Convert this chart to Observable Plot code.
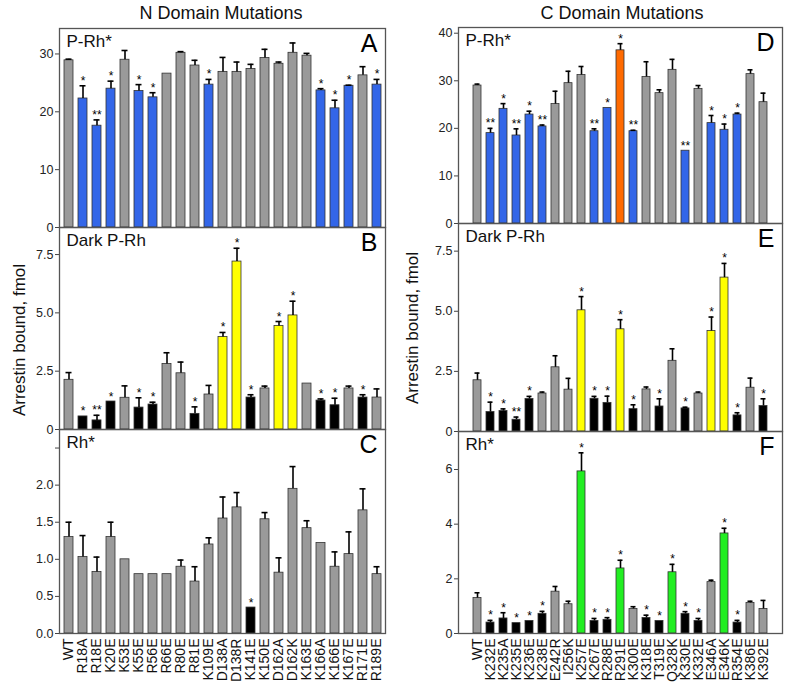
<!DOCTYPE html>
<html><head><meta charset="utf-8">
<script src="https://cdn.jsdelivr.net/npm/d3@7"></script>
<script src="https://cdn.jsdelivr.net/npm/@observablehq/plot@0.6"></script>
<style>
body{margin:0;background:#fff;font-family:"Liberation Sans",Arial,sans-serif}
#wrap{position:relative;width:798px;height:689px;overflow:hidden;background:#fff}
</style></head><body><div id="wrap"></div>
<script>
const FONT = '"Liberation Sans", Arial, sans-serif';
const COLORS = {g:"#9a9a9a", b:"#3366e8", k:"#000000", y:"#ffff00", o:"#ff6a00", n:"#22ee22"};

// N domain
const nCats = ["WT","R18A","R18E","K20E","K53E","K55E","R56E","R66E","R80E","R81E","K109E","D138A","D138R","K141E","K150E","D162A","D162K","K163E","K166A","K166E","K167E","R171E","R189E"];
const aVal = [28.9,22.3,17.6,24.0,29.0,23.6,22.5,26.6,30.2,28.0,24.7,26.9,26.9,27.4,29.3,28.3,30.2,29.7,23.7,20.6,24.5,26.3,24.7];
const aErr = [29.1,24.5,18.6,25.3,30.6,24.7,23.3,26.6,30.4,28.9,25.6,29.4,28.6,28.2,30.8,28.6,31.9,30.1,24.0,22.0,24.6,27.8,25.6];
const aCol = ["g","b","b","b","g","b","b","g","g","g","b","g","g","g","g","g","g","g","b","b","b","g","b"];
const aSig = ["","*","**","*","","*","*","","","","*","","","","","","","","*","*","*","","*"];

const bVal = [2.13,0.56,0.39,1.2,1.36,0.94,1.07,2.81,2.41,0.67,1.5,3.97,7.2,1.37,1.76,4.44,4.89,1.97,1.24,1.04,1.76,1.37,1.37];
const bErr = [2.44,0.56,0.61,1.2,1.87,1.36,1.17,3.29,2.89,0.97,1.89,4.16,7.77,1.49,1.86,4.63,5.5,1.97,1.31,1.34,1.86,1.49,1.74];
const bCol = ["g","k","k","k","g","k","k","g","g","k","g","y","y","k","g","y","y","g","k","k","g","k","g"];
const bSig = ["","*","**","*","","*","*","","","*","","*","*","*","","*","*","","*","*","","*",""];

const cVal = [1.30,1.03,0.83,1.30,1.0,0.8,0.8,0.8,0.9,0.70,1.20,1.55,1.70,0.35,1.54,0.82,1.95,1.42,1.22,0.9,1.07,1.66,0.8];
const cErr = [1.50,1.32,1.03,1.50,1.0,0.8,0.8,0.8,0.99,0.90,1.29,1.84,1.90,0.35,1.63,1.02,2.25,1.52,1.22,1.10,1.37,1.95,0.9];
const cCol = ["g","g","g","g","g","g","g","g","g","g","g","g","g","k","g","g","g","g","g","g","g","g","g"];
const cSig = ["","","","","","","","","","","","","","*","","","","","","","","",""];

// C domain
const rCats = ["WT","K232E","K235A","K235E","K236E","K238E","E242R","I256K","K257E","K267E","R288E","R291E","K300E","K318E","T319E","Q328K","K330E","K332E","E346A","E346K","R354E","K386E","K392E"];
const dVal = [29.0,19.0,24.1,18.5,22.9,20.4,25.1,29.5,31.2,19.4,24.3,36.4,19.4,30.8,27.4,32.3,15.3,28.3,21.1,19.7,22.9,31.4,25.5];
const dErr = [29.3,20.0,25.2,19.9,23.6,20.7,27.8,32.0,33.0,19.9,24.3,37.8,19.6,34.0,28.1,34.5,15.3,29.0,22.7,20.9,23.2,32.3,27.4];
const dCol = ["g","b","b","b","b","b","g","g","g","b","b","o","b","g","g","g","b","g","b","b","b","g","g"];
const dSig = ["","**","*","**","*","**","","","","**","*","*","**","","","","**","","*","*","*","",""];

const eVal = [2.13,0.81,0.85,0.49,1.35,1.58,2.67,1.74,5.04,1.36,1.19,4.25,0.93,1.75,1.04,2.94,0.96,1.58,4.18,6.4,0.67,1.82,1.06];
const eErr = [2.43,1.22,0.94,0.6,1.46,1.64,3.15,2.21,5.61,1.46,1.47,4.65,1.11,1.85,1.36,3.44,1.01,1.64,4.76,6.99,0.78,2.22,1.36];
const eCol = ["g","k","k","k","k","g","g","g","y","k","k","y","k","g","k","g","k","g","y","y","k","g","k"];
const eSig = ["","*","*","**","*","","","","*","*","*","*","*","","*","","*","","*","*","*","","*"];

const fVal = [1.30,0.40,0.55,0.38,0.46,0.72,1.53,1.07,5.93,0.46,0.5,2.38,0.9,0.57,0.46,2.24,0.72,0.46,1.88,3.66,0.4,1.12,0.9];
const fErr = [1.49,0.48,0.76,0.38,0.46,0.81,1.72,1.18,6.61,0.55,0.58,2.68,0.98,0.67,0.46,2.53,0.8,0.55,1.95,3.85,0.48,1.18,1.21];
const fCol = ["g","k","k","k","k","k","g","g","n","k","k","n","g","k","k","n","k","k","g","n","k","g","g"];
const fSig = ["","*","*","*","*","*","","","*","*","*","*","","*","*","*","*","*","","*","*","",""];

const wrap = document.getElementById("wrap");

function panel(o){
  const data = o.cats.map((c,i)=>({c, v:o.val[i], e:o.err[i], f:COLORS[o.col[i]], s:o.sig[i]}));
  const errs = data.filter(d=>d.e>d.v);
  const mt = 1, mb = o.xAxis ? 689 - o.bottom : 1;
  const marks = [
    Plot.barY(data,{x:"c",y:"v",fill:"f",stroke:"#333",strokeWidth:0.8}),
    Plot.ruleX(errs,{x:"c",y1:"v",y2:"e",stroke:"#000",strokeWidth:1.6}),
    Plot.tickY(errs,{x:"c",y:"e",stroke:"#000",strokeWidth:1.6,insetLeft:1.5,insetRight:1.5}),
    Plot.text(data.filter(d=>d.s),{x:"c",y:"e",text:"s",lineAnchor:"bottom",dy:-1,fontSize:12,fill:"#000"}),
    Plot.axisY({ticks:o.ticks, tickFormat:o.fmt, tickSize:4, tickPadding:2, fontSize:12.5, label:null, stroke:"#444", fill:"#222"}),
    Plot.frame({stroke:"#555",strokeWidth:1.3}),
    Plot.text([o.name],{frameAnchor:"top-left",dx:7,dy:6,lineAnchor:"top",textAnchor:"start",fontSize:17,fill:"#111"}),
    Plot.text([o.letter],{frameAnchor:"top-right",dx:-8,dy:6,lineAnchor:"top",textAnchor:"end",fontSize:25,fill:"#000"})
  ];
  if (o.xAxis) marks.push(Plot.axisX({tickRotate:-90, tickSize:0, tickPadding:5, fontSize:14, label:null, fill:"#111"}));
  const svg = Plot.plot({
    width:o.width, height:o.bottom-o.top+mt+mb,
    marginLeft:o.ml, marginRight:o.mr, marginTop:mt, marginBottom:mb,
    style:{fontFamily:FONT, background:"transparent", overflow:"visible"},
    x:{domain:o.cats, paddingInner:0.36, paddingOuter:0.26, axis:null},
    y:{domain:[0,o.ymax]},
    color:{type:"identity"},
    marks
  });
  svg.style.position="absolute"; svg.style.left=o.left+"px"; svg.style.top=(o.top-mt)+"px";
  wrap.appendChild(svg);
}
const fmtDec = d => d===0 ? "0" : d.toFixed(1);
const fmtInt = d => String(d);
const L = {cats:nCats, width:400, left:0, ml:59, mr:15};
const R = {cats:rCats, width:398, left:400, ml:58, mr:16};

panel({...L, val:aVal, err:aErr, col:aCol, sig:aSig, top:28, bottom:227, ymax:34.4, ticks:[0,10,20,30], fmt:fmtInt, name:"P-Rh*", letter:"A"});
panel({...L, val:bVal, err:bErr, col:bCol, sig:bSig, top:227, bottom:429, ymax:8.66, ticks:[0,2.5,5,7.5], fmt:fmtDec, name:"Dark P-Rh", letter:"B"});
panel({...L, val:cVal, err:cErr, col:cCol, sig:cSig, top:429, bottom:633, ymax:2.75, ticks:[0,0.5,1,1.5,2,2.5], fmt:d=>d===2.5?"":d.toFixed(1), name:"Rh*", letter:"C", xAxis:true});
panel({...R, val:dVal, err:dErr, col:dCol, sig:dSig, top:27, bottom:223, ymax:41.2, ticks:[0,10,20,30,40], fmt:fmtInt, name:"P-Rh*", letter:"D"});
panel({...R, val:eVal, err:eErr, col:eCol, sig:eSig, top:223, bottom:431, ymax:8.65, ticks:[0,2.5,5,7.5], fmt:fmtDec, name:"Dark P-Rh", letter:"E"});
panel({...R, val:fVal, err:fErr, col:fCol, sig:fSig, top:431, bottom:633, ymax:7.39, ticks:[0,2,4,6], fmt:fmtInt, name:"Rh*", letter:"F", xAxis:true});

// titles and y labels
const ns = "http://www.w3.org/2000/svg";
const ov = document.createElementNS(ns,"svg");
ov.setAttribute("width",798); ov.setAttribute("height",689);
ov.style.cssText = "position:absolute;left:0;top:0;pointer-events:none;font-family:"+FONT;
function addText(txt, x, y, size, rot){
  const t = document.createElementNS(ns,"text");
  t.setAttribute("text-anchor","middle");
  t.setAttribute("font-size",size);
  t.setAttribute("fill","#111");
  t.setAttribute("transform",`translate(${x},${y})`+(rot?" rotate(-90)":""));
  t.textContent = txt;
  ov.appendChild(t);
}
addText("N Domain Mutations", 221, 19, 18, false);
addText("C Domain Mutations", 622, 19, 18, false);
addText("Arrestin bound, fmol", 25, 340, 17, true);
addText("Arrestin bound, fmol", 418, 328, 17, true);
wrap.appendChild(ov);
</script></body></html>
